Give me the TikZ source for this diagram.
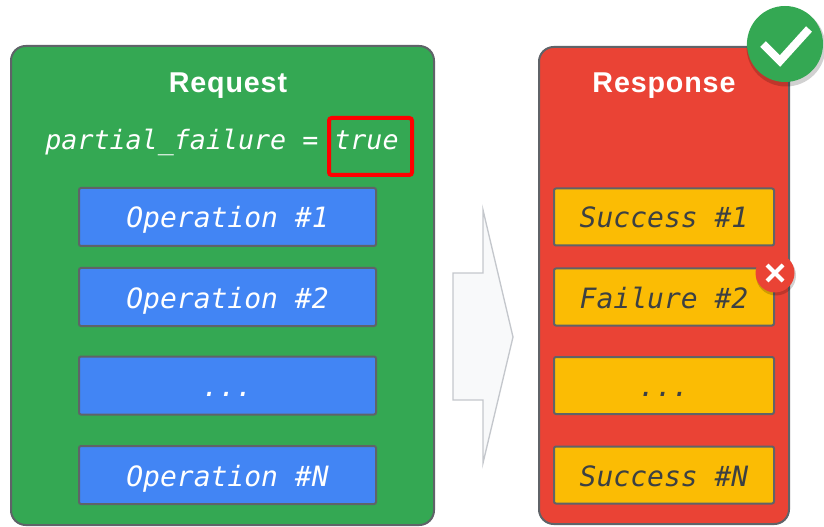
\documentclass[tikz,border=0pt]{standalone}
\usepackage{fontspec}
\newfontfamily\opfont{DejaVu Sans Mono}
\newfontfamily\titlefont{Liberation Sans}[LetterSpace=3]
\usetikzlibrary{calc}
\definecolor{ggreen}{HTML}{34A853}
\definecolor{gred}{HTML}{EA4335}
\definecolor{gblue}{HTML}{4285F4}
\definecolor{gyellow}{HTML}{FBBC04}
\definecolor{gborder}{HTML}{5F6368}
\definecolor{gtext}{HTML}{3C4043}
\definecolor{arrowfill}{HTML}{F8F9FA}
\definecolor{arrowline}{HTML}{C4C7CC}
\definecolor{hired}{HTML}{FF0000}
\tikzset{
  panel/.style={draw=gborder, line width=1.5pt, rounded corners=11pt},
  opbox/.style={draw=gborder, line width=1.5pt, fill=gblue, rounded corners=1.5pt,
    minimum width=297*0.75pt, minimum height=58*0.75pt, inner sep=0pt,
    text height=16.5pt, text depth=0pt,
    text=white, font=\opfont\itshape\fontsize{21}{24}\selectfont},
  resbox/.style={draw=gborder, line width=1.5pt, fill=gyellow, rounded corners=1.5pt,
    minimum width=220*0.75pt, minimum height=57*0.75pt, inner sep=0pt,
    text height=16.5pt, text depth=0pt,
    text=gtext, font=\opfont\itshape\fontsize{21}{24}\selectfont},
  titletext/.style={text=white, anchor=base, inner sep=0pt, font=\titlefont\bfseries\fontsize{21.5}{24}\selectfont},
}
\begin{document}
\begin{tikzpicture}[x=0.75pt,y=-0.75pt]
\useasboundingbox (0,0) rectangle (824,527);
% panels
\draw[panel, fill=ggreen] (11,46) rectangle (434,525);
\draw[panel, fill=gred] (539,47) rectangle (789,524);
% titles
\node[titletext] (reqtitle) at (228,93) {Request};
\node[titletext] (restitle) at (664,93) {Response};
% partial failure line
\node[anchor=base, text=white, inner sep=0pt, font=\opfont\itshape\fontsize{20}{24}\selectfont] (pf) at (222,150) {partial\_failure = true};
\draw[hired, line width=3pt, rounded corners=2pt] (329,118) rectangle (412,175);
% operation boxes
\node[opbox] (op1) at (227.5,217) {Operation \#1};
\node[opbox] (op2) at (227.5,297) {Operation \#2};
\node[opbox] (opd) at (227.5,385.5) {...};
\node[opbox] (opn) at (227.5,475) {Operation \#N};
% response boxes
\node[resbox] (r1) at (664,217) {Success \#1};
\node[resbox] (r2) at (664,297) {Failure \#2};
\node[resbox] (rd) at (664,385.5) {...};
\node[resbox] (rn) at (664,475) {Success \#N};
% big arrow
\draw[draw=arrowline, fill=arrowfill, line width=1pt, line join=miter]
  (453,273) -- (483,273) -- (483,210) -- (513,337) -- (483,463) -- (483,400) -- (453,400) -- cycle;
% failure X badge
\fill[black, opacity=0.18] (776,275.5) circle (20);
\fill[gred] (775,273) circle (19.5);
\draw[white, line width=3pt] (767,265) -- (783,281) (783,265) -- (767,281);
% check badge
\fill[black, opacity=0.18] (786,47) circle (39.5);
\fill[ggreen] (785,44) circle (38);
\draw[white, line width=6pt] (763,44) -- (780,61) -- (809,29);
\end{tikzpicture}
\end{document}
